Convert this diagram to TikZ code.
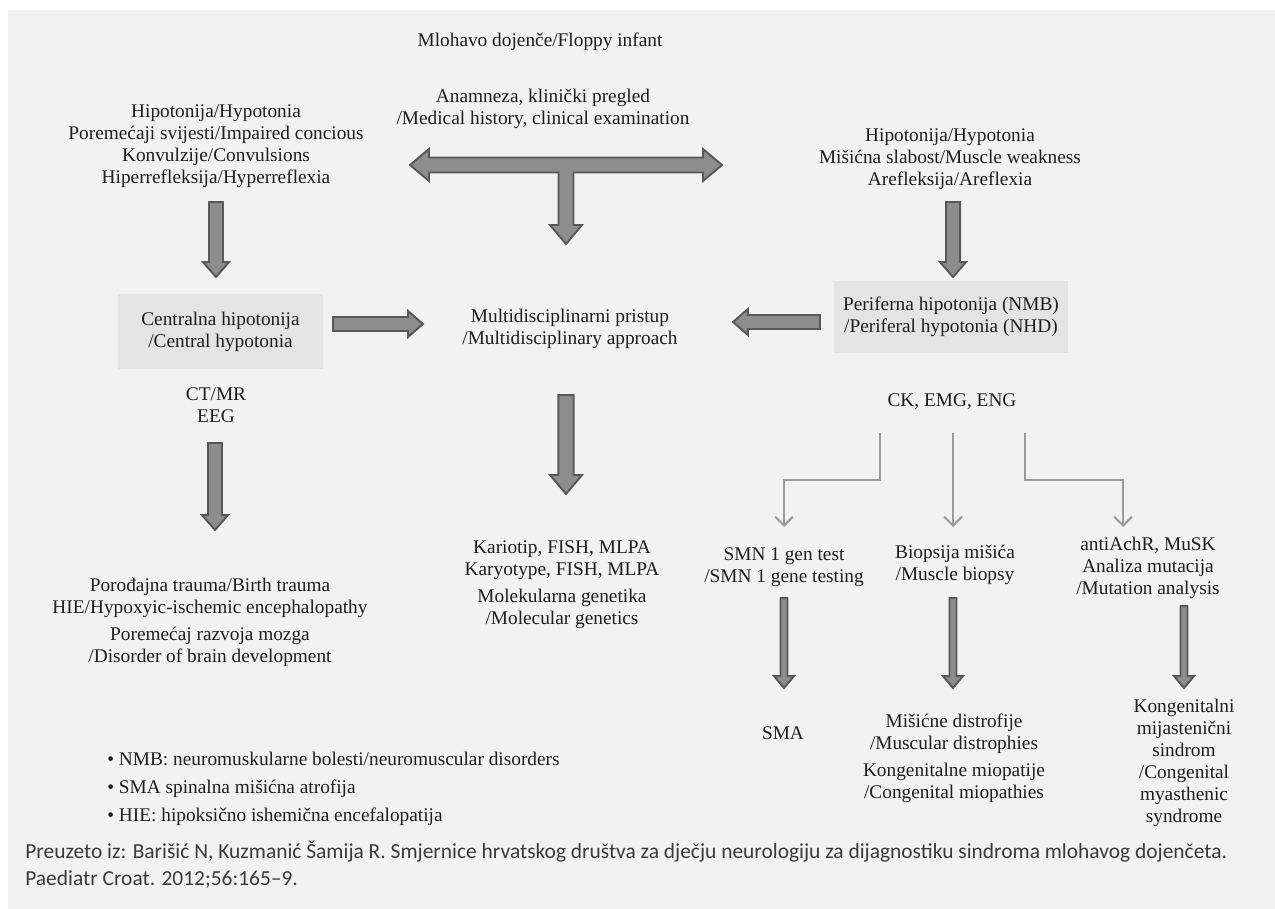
\documentclass[tikz,border=0pt]{standalone}
\usepackage{fontspec}
\setmainfont{Liberation Serif}
\newfontfamily\footfont{Carlito}
\usetikzlibrary{calc,arrows.meta}

\definecolor{bggray}{HTML}{F2F2F2}
\definecolor{boxgray}{HTML}{E4E4E4}
\definecolor{arrowgray}{HTML}{8D8D8D}
\definecolor{arrowedge}{HTML}{585858}
\definecolor{linegray}{HTML}{9A9A9A}
\definecolor{ink}{HTML}{1E1E1E}
\definecolor{footink}{HTML}{3A3A3A}

\tikzset{
  txt/.style={align=center, inner sep=0pt, text=ink, font=\fontsize{11}{12.5}\selectfont},
  graybox/.style={txt, fill=boxgray},
  fatarr/.style={fill=arrowgray, draw=arrowedge, line width=1.1pt, line join=miter},
  thinarr/.style={draw=linegray, line width=1.2pt, -{Straight Barb[length=5pt,width=10pt]}},
}

% block arrow: from, to, half shaft, half head, head length
\newcommand{\fatarrow}[5]{%
  \filldraw[fatarr] ($(#1)!#3!90:(#2)$) -- ($(#2)!#5!(#1)!#3!90:(#2)$)
    -- ($(#2)!#5!(#1)!#4!90:(#2)$) -- (#2) -- ($(#2)!#5!(#1)!#4!-90:(#2)$)
    -- ($(#2)!#5!(#1)!#3!-90:(#2)$) -- ($(#1)!#3!-90:(#2)$) -- cycle;}
\newcommand{\bigarrow}[2]{\fatarrow{#1}{#2}{4.3pt}{9.1pt}{10.8pt}}
\newcommand{\medarrow}[2]{\fatarrow{#1}{#2}{4pt}{7.4pt}{8.5pt}}
\newcommand{\smallarrow}[2]{\fatarrow{#1}{#2}{2pt}{5.7pt}{6.8pt}}

\begin{document}
\begin{tikzpicture}[x=0.02cm, y=-0.02cm]
  \useasboundingbox (0,0) rectangle (1275,909);
  \fill[bggray] (8,10) rectangle (1275,909);

  % top
  \node[txt] (floppy) at (540,42) {Mlohavo dojenče/Floppy infant};
  \node[txt] (anamneza) at (543,109) {Anamneza, klinički pregled\\/Medical history, clinical examination};
  \node[txt] (central sym) at (216,146) {Hipotonija/Hypotonia\\Poremećaji svijesti/Impaired concious\\Konvulzije/Convulsions\\Hiperrefleksija/Hyperreflexia};
  \node[txt] (periph sym) at (950,159) {Hipotonija/Hypotonia\\Mišićna slabost/Muscle weakness\\Arefleksija/Areflexia};

  % T arrow
  \filldraw[fatarr] (410,165) -- (429,149) -- (429,157.5) -- (703,157.5) -- (703,149) -- (722,165)
    -- (703,181) -- (703,172.5) -- (573.5,172.5) -- (573.5,225) -- (582,225) -- (566,244)
    -- (550,225) -- (558.5,225) -- (558.5,172.5) -- (429,172.5) -- (429,181) -- cycle;

  % middle row
  \node[graybox, minimum width=4.1cm, minimum height=1.5cm] (central) at (220.5,331.5) {Centralna hipotonija\\/Central hypotonia};
  \node[graybox, minimum width=4.68cm, minimum height=1.44cm] (periph) at (951,317) {Periferna hipotonija (NMB)\\/Periferal hypotonia (NHD)};
  \node[txt] (multi) at (570,329) {Multidisciplinarni pristup\\/Multidisciplinary approach};

  \coordinate (cs1) at (216,202); \coordinate (cs2) at (216,277);
  \coordinate (ps1) at (953,202); \coordinate (ps2) at (953,277);
  \coordinate (cm1) at (333,324); \coordinate (cm2) at (423,324);
  \coordinate (pm1) at (820,322); \coordinate (pm2) at (733,322);
  \medarrow{cs1}{cs2}
  \medarrow{ps1}{ps2}
  \medarrow{cm1}{cm2}
  \medarrow{pm1}{pm2}

  % tests
  \node[txt] (ctmr) at (216,405) {CT/MR\\EEG};
  \node[txt] (ck) at (952,402) {CK, EMG, ENG};
  \coordinate (ct1) at (215,443); \coordinate (ct2) at (215,530);
  \coordinate (mu1) at (566,395); \coordinate (mu2) at (566,494);
  \medarrow{ct1}{ct2}
  \bigarrow{mu1}{mu2}

  \node[txt] (central dx) at (210,622) {Porođajna trauma/Birth trauma\\HIE/Hypoxyic-ischemic encephalopathy\\[3pt]Poremećaj razvoja mozga\\/Disorder of brain development};
  \node[txt] (genetics) at (562,585) {Kariotip, FISH, MLPA\\Karyotype, FISH, MLPA\\[3pt]Molekularna genetika\\/Molecular genetics};

  % CK branches
  \node[txt] (smn) at (784,567) {SMN 1 gen test\\/SMN 1 gene testing};
  \node[txt] (biopsy) at (955,565) {Biopsija mišića\\/Muscle biopsy};
  \node[txt] (achr) at (1148,568) {antiAchR, MuSK\\Analiza mutacija\\/Mutation analysis};
  \coordinate (ckL) at (880,433); \coordinate (ckM) at (953,433); \coordinate (ckR) at (1025,433);
  \coordinate (smnT) at (784,527); \coordinate (biopT) at (953,527); \coordinate (achrT) at (1123,527);
  \draw[thinarr] (ckL) -- ++(0,47) -| (smnT);
  \draw[thinarr] (ckM) -- (biopT);
  \draw[thinarr] (ckR) -- ++(0,47) -| (achrT);

  \coordinate (sm1) at (784,598); \coordinate (sm2) at (784,688);
  \coordinate (bi1) at (953,598); \coordinate (bi2) at (953,688);
  \coordinate (ac1) at (1184,606); \coordinate (ac2) at (1184,688);
  \smallarrow{sm1}{sm2}
  \smallarrow{bi1}{bi2}
  \smallarrow{ac1}{ac2}

  \node[txt] (sma) at (783,733) {SMA};
  \node[txt] (dystro) at (954,758) {Mišićne distrofije\\/Muscular distrophies\\[3pt]Kongenitalne miopatije\\/Congenital miopathies};
  \node[txt] (cms) at (1184,763) {Kongenitalni\\mijastenični\\sindrom\\/Congenital\\myasthenic\\syndrome};

  % legend and source
  \node[txt, align=left, anchor=west] (legend) at (107,789) {\textbullet\ NMB: neuromuskularne bolesti/neuromuscular disorders\\[3.5pt]\textbullet\ SMA spinalna mišićna atrofija\\[3.5pt]\textbullet\ HIE: hipoksično ishemična encefalopatija};
  \node[align=left, anchor=west, inner sep=0pt, text=footink, font=\footfont\fontsize{12.2}{15.4}\selectfont] (source) at (25,865) {Preuzeto iz: Barišić N, Kuzmanić Šamija R. Smjernice hrvatskog društva za dječju neurologiju za dijagnostiku sindroma mlohavog dojenčeta.\\Paediatr Croat. 2012;56:165–9.};
\end{tikzpicture}
\end{document}
